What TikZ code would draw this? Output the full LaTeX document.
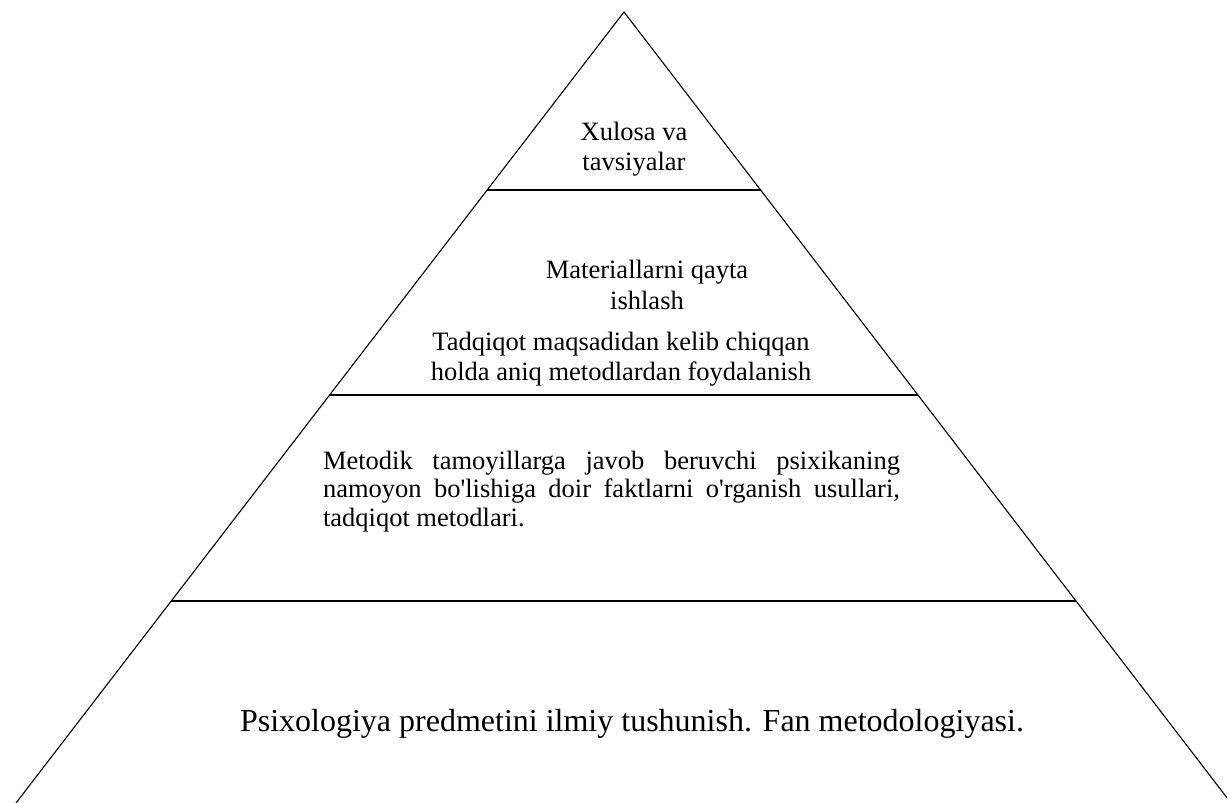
\documentclass[tikz,border=0pt]{standalone}
\usepackage{fontspec}
\setmainfont{Liberation Serif}
\usepackage{tikz}
\usetikzlibrary{calc}

\begin{document}
\begin{tikzpicture}[
    x=1pt,y=-1pt,
    side/.style={line width=1.1pt},
    tier/.style={line width=2.4pt},
    label/.style={align=center, inner sep=0pt, anchor=base, font=\fontsize{26.5}{30}\selectfont}
]
    \useasboundingbox (0,0) rectangle (1227,803);

    % pyramid outline
    \coordinate (apex)  at (624,12);
    \coordinate (baseL) at (16,803);
    \coordinate (baseR) at (1231,803);
    \draw[side] (baseL) -- (apex) -- (baseR);

    % tiers
    \coordinate (t1L) at ($(apex)!0.2250!(baseL)$);
    \coordinate (t1R) at ($(apex)!0.2250!(baseR)$);
    \coordinate (t2L) at ($(apex)!0.4842!(baseL)$);
    \coordinate (t2R) at ($(apex)!0.4842!(baseR)$);
    \coordinate (t3L) at ($(apex)!0.7446!(baseL)$);
    \coordinate (t3R) at ($(apex)!0.7446!(baseR)$);
    \draw[tier] (t1L) -- (t1R);
    \draw[tier] (t2L) -- (t2R);
    \draw[tier] (t3L) -- (t3R);

    % texts (base = last line)
    \node[label] (xulosa) at (634,170) {Xulosa va\\tavsiyalar};
    \node[label, font=\fontsize{26.5}{31}\selectfont] (material) at (647,309) {Materiallarni qayta\\ishlash};
    \node[label] (tadqiqot) at (621,380) {Tadqiqot maqsadidan kelib chiqqan\\holda aniq metodlardan foydalanish};
    \node[label, align=justify, text width=577, font=\fontsize{26.5}{28.5}\selectfont] (metodik) at (611.5,469)
        {Metodik tamoyillarga javob beruvchi psixikaning\linebreak
         namoyon bo\textquotesingle lishiga doir faktlarni o\textquotesingle rganish usullari,\linebreak
         tadqiqot metodlari.};
    \node[label, font=\fontsize{32}{38}\selectfont] (fan) at (632,731)
        {Psixologiya predmetini ilmiy tushunish. Fan metodologiyasi.};
\end{tikzpicture}
\end{document}
